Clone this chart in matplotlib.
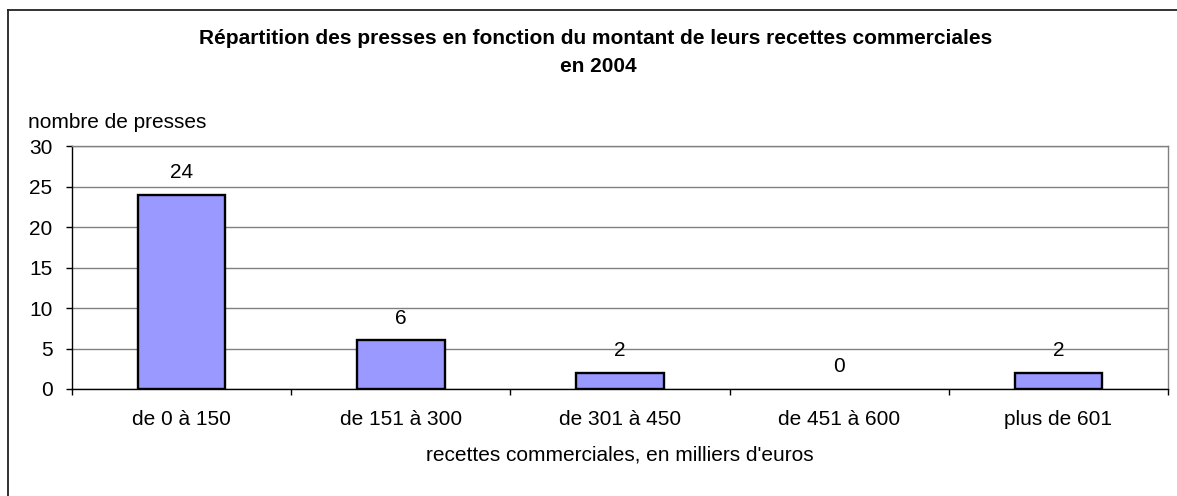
import matplotlib
matplotlib.use("Agg")
import matplotlib.pyplot as plt
from matplotlib.lines import Line2D
import numpy as np

categories = ["de 0 à 150", "de 151 à 300", "de 301 à 450", "de 451 à 600", "plus de 601"]
values = [24, 6, 2, 0, 2]
yticks = [0, 5, 10, 15, 20, 25, 30]
title_line1 = "Répartition des presses en fonction du montant de leurs recettes commerciales"
title_line2 = "en 2004"
ylabel = "nombre de presses"
xlabel = "recettes commerciales, en milliers d'euros"

plt.rcParams['font.family'] = ['Liberation Sans', 'DejaVu Sans']

W, H = 1177, 496
fig = plt.figure(figsize=(W / 100, H / 100), dpi=100)
fig.patch.set_facecolor("white")

def fx(px):
    return px / W

def fy(py):
    return 1 - py / H

# outer frame (top and left visible)
fig.add_artist(Line2D([fx(8), fx(8)], [fy(10), 0], color="#222222", lw=1.3, transform=fig.transFigure))
fig.add_artist(Line2D([fx(8), 1], [fy(10), fy(10)], color="#222222", lw=1.3, transform=fig.transFigure))

left, right, top, bottom = 72, 1168, 146, 389
ax = fig.add_axes([fx(left), fy(bottom), fx(right - left), (bottom - top) / H])

x = np.arange(len(categories))
edges = ["black" if v > 0 else "none" for v in values]
ax.bar(x, values, width=0.4, color="#9999FF", edgecolor=edges, linewidth=1.7, zorder=3)

ax.set_xlim(-0.5, len(categories) - 0.5)
ax.set_ylim(0, 30)
ax.set_yticks(yticks)
ax.yaxis.grid(True, color="#808080", lw=1, zorder=0)
ax.set_axisbelow(True)

fs = 15
ax.set_xticks(x)
ax.set_xticklabels(categories, fontsize=fs)
ax.set_xticks(np.arange(-0.5, len(categories)), minor=True)
ax.tick_params(axis="x", which="major", length=0, pad=15)
ax.tick_params(axis="x", which="minor", length=4, width=1, direction="out", color="black")
ax.tick_params(axis="y", which="major", length=4, width=1, direction="out", pad=10, labelsize=fs)

for s in ["top", "right"]:
    ax.spines[s].set_color("#808080")
    ax.spines[s].set_linewidth(1)
for s in ["left", "bottom"]:
    ax.spines[s].set_color("black")
    ax.spines[s].set_linewidth(1)
ax.spines["bottom"].set_zorder(4)

for xi, v in zip(x, values):
    ax.annotate(str(v), (xi, v), xytext=(0, 22), textcoords="offset pixels",
                ha="center", va="center", fontsize=fs, zorder=5)

fig.text(fx(596), fy(39), title_line1, ha="center", va="center", fontsize=15, fontweight="bold")
fig.text(fx(598), fy(66), title_line2, ha="center", va="center", fontsize=15, fontweight="bold")
fig.text(fx(28), fy(123), ylabel, ha="left", va="center", fontsize=fs)
fig.text(fx(620), fy(455), xlabel, ha="center", va="center", fontsize=fs)

fig.savefig("out.png", dpi=100)
